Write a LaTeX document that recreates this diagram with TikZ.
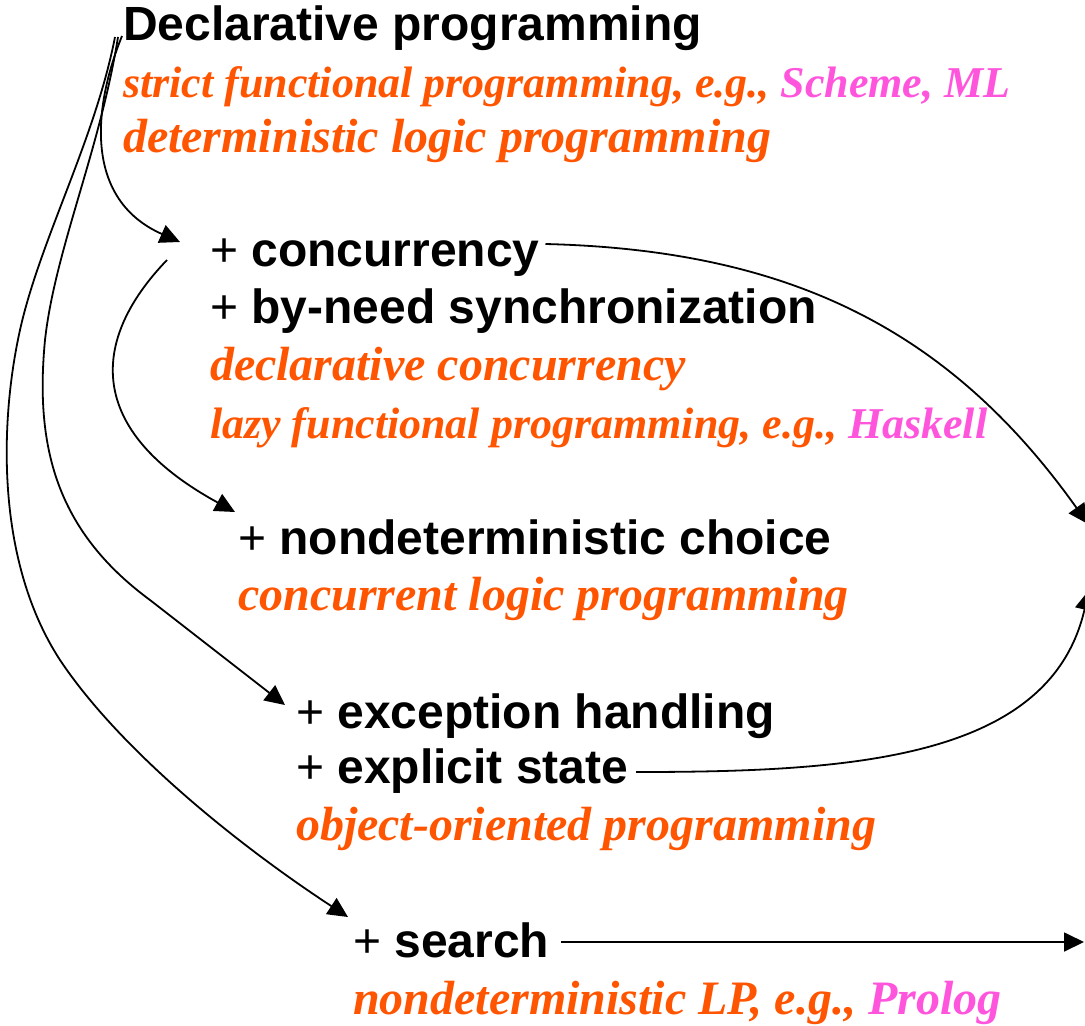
\documentclass[tikz,border=0pt]{standalone}
\usepackage{fontspec}
\setmainfont{Liberation Serif}
\newfontfamily\arialf{Liberation Sans}
\newfontfamily\timesf{Liberation Serif}
\usetikzlibrary{arrows.meta,calc}
\definecolor{orng}{RGB}{255,85,0}
\definecolor{pnk}{RGB}{255,85,221}
\begin{document}
\begin{tikzpicture}[x=1pt,y=-1pt,
  every node/.style={inner sep=0pt,outer sep=0pt,anchor=base west},
  blk/.style={font=\arialf\fontsize{48}{56}\selectfont\bfseries,text=black},
  itl/.style={font=\timesf\fontsize{48}{56}\selectfont\bfseries\itshape,text=orng},
  itlsmall/.style={font=\timesf\fontsize{44}{52}\selectfont\bfseries\itshape,text=orng},
  conn/.style={line width=1.8pt,-{Triangle[length=20pt,width=19pt]}}]
\useasboundingbox (0,0) rectangle (1085,1026);
% texts
\node[blk] (decl) at (123,40) {Declarative programming};
\node[itlsmall] (strict) at (123,97) {strict functional programming, e.g., \textcolor{pnk}{Scheme, ML}};
\node[itl] (detlp) at (123,152) {deterministic logic programming};
\node[blk] (conc) at (210,266) {{\mdseries +} concurrency};
\node[blk] (byneed) at (210,323) {{\mdseries +} by-need synchronization};
\node[itl] (declc) at (210,380) {declarative concurrency};
\node[itlsmall] (lazy) at (210,438) {lazy functional programming, e.g., \textcolor{pnk}{Haskell}};
\node[blk] (choice) at (238,554) {{\mdseries +} nondeterministic choice};
\node[itl] (clp) at (238,610) {concurrent logic programming};
\node[blk] (exc) at (296,728) {{\mdseries +} exception handling};
\node[blk] (expl) at (296,783) {{\mdseries +} explicit state};
\node[itl] (oop) at (296,840) {object-oriented programming};
\node[blk] (srch) at (353,957) {{\mdseries +} search};
\node[itl] (ndlp) at (353,1014) {nondeterministic LP, e.g., \textcolor{pnk}{Prolog}};
% free ends at the right border
\coordinate (eA) at (1088,524);
\coordinate (eB) at (1089,590);
\coordinate (eC) at (1084,942);
% connectors
\draw[conn] ($(decl.base west)+(-1,-4)$) .. controls (92,110) and (85,200) .. ($(conc.base west)+(-30,-24)$);
\draw[conn] ($(conc.base west)+(-43,-6)$) .. controls (90,340) and (85,430) .. ($(choice.base west)+(-3,-42)$);
\draw[conn] ($(decl.base west)+(-5,-3)$) .. controls (100,150) and (55,250) .. (45,340)
   .. controls (35,445) and (55,530) .. (150,600) -- ($(exc.base west)+(-11,-23)$);
\draw[conn] ($(decl.base west)+(-8,-3)$) .. controls (95,140) and (40,240) .. (20,330)
   .. controls (0,420) and (-5,560) .. (60,660) .. controls (120,750) and (238,845) .. ($(srch.base west)+(-5,-40)$);
\draw[conn] ($(conc.base east)+(6,-22)$) .. controls (790,250) and (950,330) .. (eA);
\draw[conn] ($(expl.base east)+(8,-11)$) .. controls (850,772) and (1050,760) .. (eB);
\draw[conn] ($(srch.base east)+(12,-15)$) -- (eC);
\end{tikzpicture}
\end{document}
